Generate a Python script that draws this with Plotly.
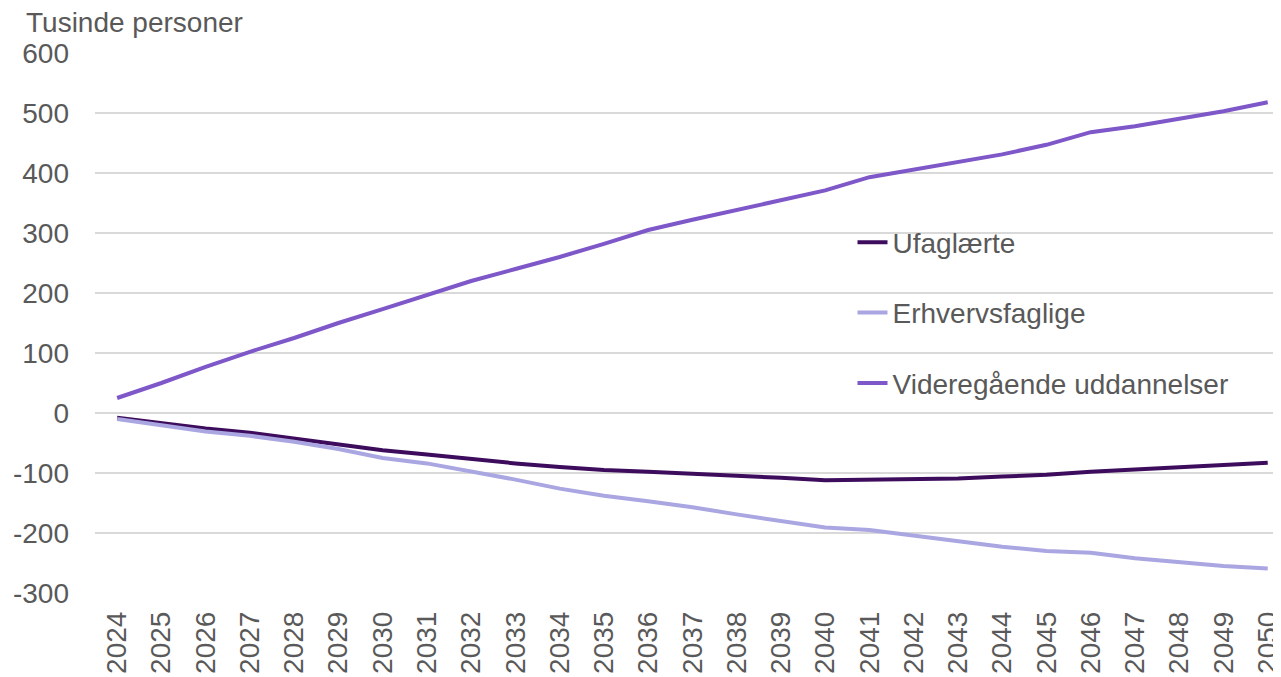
import plotly.graph_objects as go

years = list(range(2024, 2051))
ufaglaerte = [-8, -17, -26, -33, -43, -52, -62, -69, -77, -84, -90, -95, -98, -101,
              -105, -108, -112, -111, -111, -109, -106, -103, -98, -94, -90, -86, -83]
erhvervsfaglige = [-10, -20, -31, -38, -48, -60, -75, -84, -97, -111, -126, -138, -147,
                   -157, -169, -180, -191, -195, -204, -214, -223, -230, -233, -242,
                   -248, -255, -259]
videregaaende = [25, 50, 77, 102, 125, 150, 173, 197, 220, 240, 260, 282, 305, 322,
                 338, 354, 371, 393, 406, 419, 431, 447, 468, 478, 491, 503, 518]
series_names = ["Ufaglærte", "Erhvervsfaglige", "Videregående uddannelser"]
y_ticks = [-300, -200, -100, 0, 100, 200, 300, 400, 500, 600]

FONT = "Liberation Sans, Arial, sans-serif"
TXT = "#595959"
colors = ["#3d0c5c", "#aaa6e2", "#7e57c8"]

# page has an 8px body margin, so the figure is sized/offset to compensate
L, R, T, B = 87, 0, 45, 84
W, H = 1273, 669
PW, PH = W - L - R, H - T - B

fig = go.Figure()
for i, (name, vals) in enumerate(zip(series_names, [ufaglaerte, erhvervsfaglige, videregaaende])):
    fig.add_trace(go.Scatter(
        x=years, y=vals, mode="lines", name=name,
        line=dict(color=colors[i], width=4),
        legendgroup=f"g{i}",
    ))

fig.update_layout(
    width=W, height=H,
    margin=dict(l=L, r=R, t=T, b=B, autoexpand=False),
    paper_bgcolor="white", plot_bgcolor="white",
    font=dict(family=FONT, color=TXT, size=28),
    showlegend=True,
    legend=dict(
        x=0.6387, y=0.6955, xanchor="left", yanchor="top",
        font=dict(family=FONT, size=28, color=TXT),
        tracegroupgap=31, bgcolor="rgba(0,0,0,0)",
    ),
    xaxis=dict(
        type="linear", range=[2023.5, 2050.3],
        tickmode="array", tickvals=years, ticktext=[str(y) for y in years],
        tickangle=-90, tickfont=dict(size=28, color=TXT, family=FONT),
        showgrid=False, zeroline=False, showline=False, ticks="",
        ticklabelstandoff=12, ticklabeloverflow="allow",
    ),
    yaxis=dict(
        range=[-300, 600], tickmode="array", tickvals=y_ticks,
        ticktext=[str(v) for v in y_ticks],
        tickfont=dict(size=28, color=TXT, family=FONT),
        showgrid=True, gridcolor="#d9d9d9", gridwidth=1.5,
        zeroline=False, showline=False, ticks="",
        ticklabelstandoff=25,
    ),
    annotations=[dict(
        text="Tusinde personer",
        x=(16 - L) / PW, y=1 + (T - 15) / PH, xref="paper", yref="paper",
        showarrow=False, xanchor="left", yanchor="middle",
        font=dict(size=28, color=TXT, family=FONT),
    )],
)

fig.write_html("out.html")
